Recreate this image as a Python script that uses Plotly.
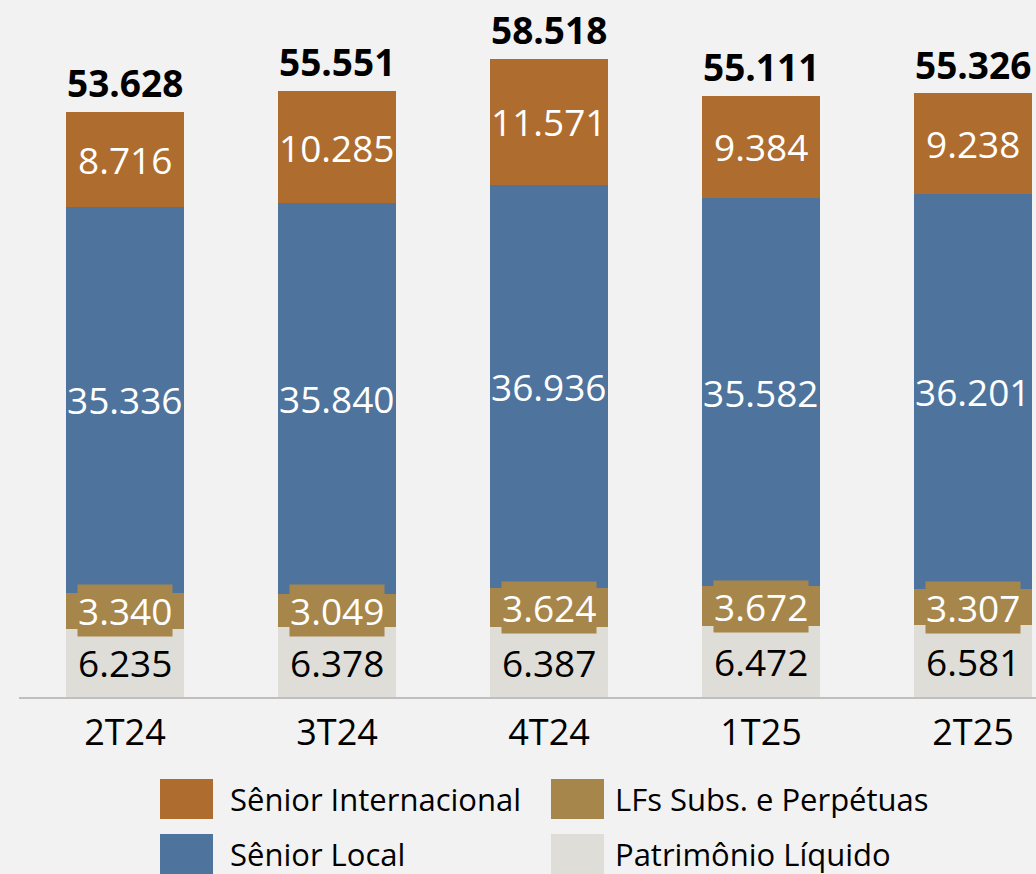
import plotly.graph_objects as go

categories = ["2T24", "3T24", "4T24", "1T25", "2T25"]
patrimonio = [6235, 6378, 6387, 6472, 6581]
lfs_subs = [3340, 3049, 3624, 3672, 3307]
senior_local = [35336, 35840, 36936, 35582, 36201]
senior_intl = [8716, 10285, 11571, 9384, 9238]
totals = [53628, 55551, 58518, 55111, 55326]

series_names = ["Patrimônio Líquido", "LFs Subs. e Perpétuas", "Sênior Local", "Sênior Internacional"]
series_values = [patrimonio, lfs_subs, senior_local, senior_intl]
series_colors = ["#DEDDD8", "#A6864A", "#4E749E", "#AE6D2E"]
label_colors = ["#000000", "#FFFFFF", "#FFFFFF", "#FFFFFF"]

W, H = 1036, 874
ML, MR, MT, MB = 19, 0, 0, 177
PW, PH = W - ML - MR, H - MT - MB
FONT = "Open Sans"


def fmt(v):
    return f"{v:,}".replace(",", ".")


def px_x(px):
    return (px - ML) / PW


def px_y(py):
    return (H - MB - py) / PH


fig = go.Figure()
for name, vals, col in zip(series_names, series_values, series_colors):
    fig.add_trace(go.Bar(x=categories, y=vals, name=name, marker=dict(color=col, line=dict(width=0)),
                         width=0.557, showlegend=False, hoverinfo="skip"))

annotations = []
base = [0] * len(categories)
for vals, col, tcol in zip(series_values, series_colors, label_colors):
    for i, v in enumerate(vals):
        annotations.append(dict(x=categories[i], y=base[i] + v / 2, xref="x", yref="y", text=fmt(v),
                                showarrow=False, bgcolor=col, borderpad=0,
                                font=dict(family=FONT, size=37, color=tcol)))
        base[i] += v

for i, t in enumerate(totals):
    annotations.append(dict(x=categories[i], y=t, xref="x", yref="y", text=f"<b>{fmt(t)}</b>",
                            showarrow=False, yanchor="middle", yshift=29,
                            font=dict(family=FONT, size=37, color="#000000")))

# custom legend
legend_order = [3, 1, 2, 0]
col_sq_x = [160, 551]
col_tx_x = [228, 613]
row_sq_y = [779, 834]
shapes = []
for k, idx in enumerate(legend_order):
    r, c = divmod(k, 2)
    shapes.append(dict(type="rect", xref="paper", yref="paper",
                       x0=px_x(col_sq_x[c]), x1=px_x(col_sq_x[c] + 53),
                       y0=px_y(row_sq_y[r]), y1=px_y(row_sq_y[r] + 40),
                       fillcolor=series_colors[idx], line=dict(width=0)))
    annotations.append(dict(x=px_x(col_tx_x[c]), y=px_y(row_sq_y[r] + 20), xref="paper", yref="paper",
                            text=series_names[idx], showarrow=False, xanchor="left", yanchor="middle",
                            font=dict(family=FONT, size=31, color="#000000")))

fig.update_layout(
    width=W, height=H,
    margin=dict(l=ML, r=MR, t=MT, b=MB, pad=0),
    paper_bgcolor="#F2F2F2", plot_bgcolor="#F2F2F2",
    barmode="stack",
    showlegend=False,
    annotations=annotations,
    shapes=shapes,
    xaxis=dict(range=[-0.5, 4.297], showline=True, linecolor="#BFBFBF", linewidth=2,
               showgrid=False, zeroline=False, ticks="", tickfont=dict(family=FONT, size=36, color="#000000"),
               ticklabelstandoff=3, fixedrange=True),
    yaxis=dict(range=[0, 63890], visible=False, showgrid=False, zeroline=False, fixedrange=True),
)

fig.write_html("out.html", config={"displayModeBar": False},
               post_script="document.body.style.margin='0px';document.body.style.overflow='hidden';document.body.style.background='#F2F2F2';")
